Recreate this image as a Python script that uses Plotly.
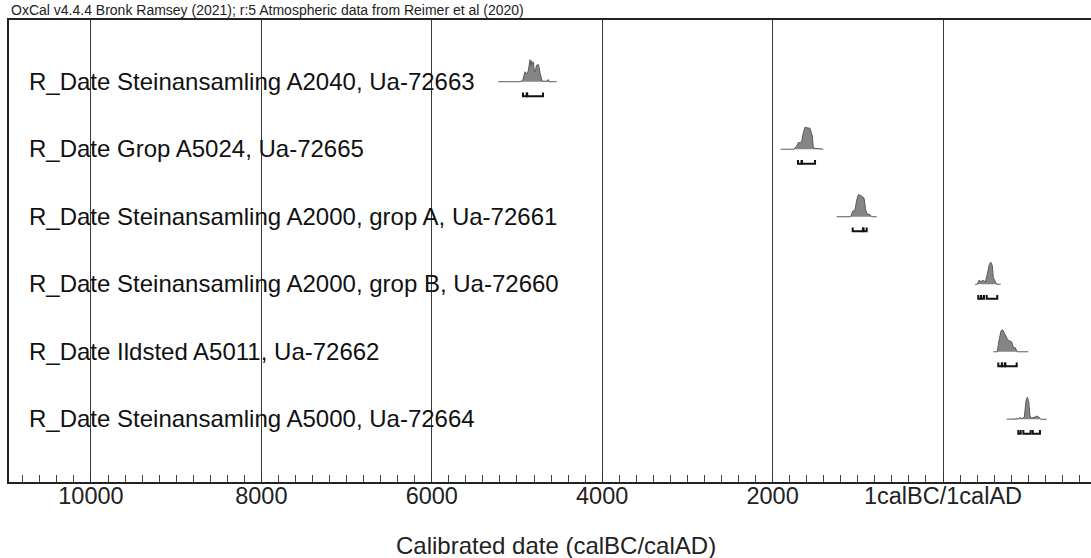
import plotly.graph_objects as go

# ---------------- data ----------------
# years: positive = calBC, negative = calAD
labels = [
    "R_Date Steinansamling A2040, Ua-72663",
    "R_Date Grop A5024, Ua-72665",
    "R_Date Steinansamling A2000, grop A, Ua-72661",
    "R_Date Steinansamling A2000, grop B, Ua-72660",
    "R_Date Ildsted A5011, Ua-72662",
    "R_Date Steinansamling A5000, Ua-72664",
]
row_pos = [6, 5, 4, 3, 2, 1]

yrs1 = [5219, 4965, 4945, 4930, 4906, 4886, 4867, 4855, 4847, 4838, 4828, 4818, 4808, 4798, 4789, 4779, 4769, 4750, 4740, 4730, 4715, 4705, 4680, 4650, 4632, 4620, 4534]
p1 = [0, 0, 0.04, 0.1, 0.45, 0.35, 0.5, 0.85, 1.0, 0.7, 0.95, 0.8, 0.9, 0.55, 0.45, 0.6, 0.75, 0.78, 0.65, 0.4, 0.1, 0.03, 0.02, 0.03, 0.1, 0.0, 0]

yrs2 = [1905, 1749, 1717, 1698, 1678, 1659, 1639, 1620, 1592, 1561, 1534, 1522, 1405]
p2 = [0, 0, 0.15, 0.3, 0.3, 0.35, 0.75, 1.0, 0.97, 0.95, 0.6, 0.05, 0]

yrs3 = [1248, 1083, 1060, 1033, 1013, 994, 966, 947, 927, 907, 888, 857, 837, 778]
p3 = [0, 0, 0.25, 0.3, 0.75, 1.0, 0.97, 0.9, 0.85, 0.3, 0.12, 0.1, 0, 0]

yrs4 = [-376, -403, -423, -446, -473, -497, -520, -544, -560, -579, -590, -610, -630, -677]
p4 = [0, 0, 0.18, 0.12, 0.18, 0.1, 0.45, 0.9, 1.0, 0.85, 0.3, 0.15, 0, 0]

yrs5 = [-590, -637, -657, -681, -700, -719, -739, -759, -778, -806, -825, -849, -869, -1001]
p5 = [0, 0, 0.5, 0.95, 1.0, 0.85, 0.65, 0.55, 0.5, 0.45, 0.2, 0.18, 0, 0]

yrs6 = [-748, -884, -904, -924, -955, -974, -990, -1006, -1021, -1041, -1080, -1100, -1131, -1147, -1217]
p6 = [0, 0.02, 0.08, 0.03, 0.1, 0.85, 1.0, 0.8, 0.15, 0.05, 0.1, 0.15, 0.08, 0, 0]

dist_years = [yrs1, yrs2, yrs3, yrs4, yrs5, yrs6]
dist_probs = [p1, p2, p3, p4, p5, p6]

# highest posterior density ranges (start, end)
ranges = [
    [(4930, 4886), (4880, 4695)],
    [(1702, 1660), (1655, 1502)],
    [(1060, 940), (932, 896)],
    [(-414, -445), (-450, -481), (-513, -637)],
    [(-649, -690), (-695, -728), (-732, -865)],
    [(-884, -912), (-943, -1029), (-1053, -1138)],
]

tick_vals = [10000, 8000, 6000, 4000, 2000, 0]
tick_text = ["10000", "8000", "6000", "4000", "2000", "1calBC/1calAD"]
x_range = [10962, -1737]

# ---------------- styling constants ----------------
FONT = "Liberation Sans, Arial, sans-serif"
H_SCALE = 0.326      # peak height in row units
BR_OFF = 0.215       # bracket offset below baseline
BR_TICK = 0.055      # bracket end tick height

fig = go.Figure()

for yrs, ps, base in zip(dist_years, dist_probs, row_pos):
    fig.add_trace(go.Scatter(
        x=yrs, y=[base + p * H_SCALE for p in ps],
        mode="lines", fill="toself", fillcolor="#858585",
        line=dict(color="#5a5a5a", width=1),
        hoverinfo="skip", showlegend=False,
    ))

for rr, base in zip(ranges, row_pos):
    bx, by = [], []
    yb = base - BR_OFF
    for s, e in rr:
        bx += [s, s, e, e, None]
        by += [yb + BR_TICK, yb, yb, yb + BR_TICK, None]
    fig.add_trace(go.Scatter(
        x=bx, y=by, mode="lines",
        line=dict(color="#111111", width=2),
        hoverinfo="skip", showlegend=False,
    ))

annotations = []
for lab, base in zip(labels, row_pos):
    annotations.append(dict(
        text=lab, xref="paper", yref="y", x=(27 - 9) / 1082, y=base + 0.01,
        xanchor="left", yanchor="middle", showarrow=False,
        font=dict(family=FONT, size=24, color="#111111"),
    ))

annotations.append(dict(
    text="OxCal v4.4.4 Bronk Ramsey (2021); r:5 Atmospheric data from Reimer et al (2020)",
    xref="paper", yref="paper", x=0.0, y=1.0, yshift=10,
    xanchor="left", yanchor="middle", showarrow=False,
    font=dict(family=FONT, size=14, color="#222222"),
))
annotations.append(dict(
    text="Calibrated date (calBC/calAD)",
    xref="paper", yref="paper", x=0.506, y=-0.1364,
    xanchor="center", yanchor="middle", showarrow=False,
    font=dict(family=FONT, size=24, color="#222222"),
))

fig.update_layout(
    width=1091, height=558,
    margin=dict(l=9, r=0, t=20, b=76),
    paper_bgcolor="white", plot_bgcolor="white",
    annotations=annotations,
    xaxis=dict(
        range=x_range, tickmode="array", tickvals=tick_vals, ticktext=tick_text,
        showgrid=True, gridcolor="#3a3a3a", gridwidth=1.2,
        showline=True, linecolor="#222222", linewidth=2, mirror=True,
        ticks="inside", ticklen=9, tickcolor="#333333", tickwidth=1,
        ticklabelstandoff=-8,
        tickfont=dict(family=FONT, size=23.5, color="#222222"),
        minor=dict(tickmode="linear", tick0=0, dtick=200, ticks="inside",
                   ticklen=7, tickcolor="#444444", tickwidth=1, showgrid=False),
        zeroline=False, fixedrange=True,
    ),
    yaxis=dict(
        range=[0.071, 6.914], showgrid=False, zeroline=False,
        showticklabels=False, ticks="",
        showline=True, linecolor="#222222", linewidth=2, mirror=False,
        fixedrange=True,
    ),
)

fig.write_html("out.html")
